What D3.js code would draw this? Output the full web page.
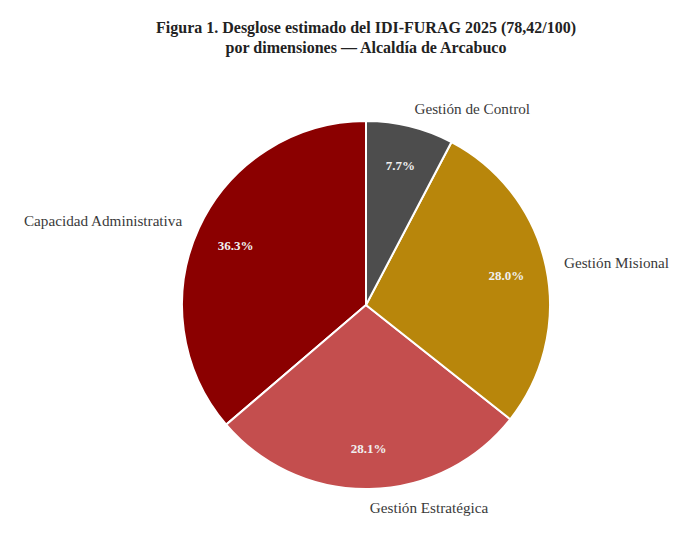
<!DOCTYPE html>
<html>
<head>
<meta charset="utf-8">
<script src="https://cdn.jsdelivr.net/npm/d3@7"></script>
<style>
  body { margin: 0; background: #fff; }
  text { font-family: "Liberation Serif", "DejaVu Serif", serif; }
</style>
</head>
<body>
<div id="chart"></div>
<script>
/* Figura 1 - desglose IDI-FURAG por dimensiones */

const categories = ["Capacidad Administrativa", "Gestión Estratégica", "Gestión Misional", "Gestión de Control"];
const values = [36.3, 28.1, 28.0, 7.7];
const colors = ["#8b0000", "#c44e4e", "#b8860b", "#4d4d4d"];
const titleLines = ["Figura 1. Desglose estimado del IDI-FURAG 2025 (78,42/100)",
                    "por dimensiones — Alcaldía de Arcabuco"];

const width = 690,
    height = 558,
    cx = 366, cy = 305,
    radius = 184;

const svg = d3.select("#chart")
    .append("svg")
    .attr("width", width)
    .attr("height", height);

svg.append("g")               // title
    .selectAll("text")
    .data(titleLines)
    .join("text")
    .attr("x", 366)
    .attr("y", (d, i) => 33 + i * 20)
    .attr("text-anchor", "middle")
    .attr("font-size", 16)
    .attr("font-weight", "bold")
    .attr("fill", "#222")
    .text(d => d);

const data = categories.map((c, i) => ({ name: c, value: values[i], color: colors[i] }));

// counter-clockwise from 12 o'clock, like matplotlib startangle=90
let pie = d3.pie()
    .sort(null)
    .value(d => d.value)
    .startAngle(0)
    .endAngle(-2 * Math.PI);

let arc = d3.arc().innerRadius(0).outerRadius(radius);

const slices = pie(data);

const g = svg.append("g")
    .attr("transform", `translate(${cx},${cy})`);

g.selectAll("path")
    .data(slices)
    .join("path")
    .attr("d", arc)
    .attr("fill", d => d.data.color)
    .attr("stroke", "#fff")
    .attr("stroke-width", 2);

let mid = d => (d.startAngle + d.endAngle) / 2;

g.selectAll(".pct")              // percentage labels inside
    .data(slices)
    .join("text")
    .attr("class", "pct")
    .attr("x", d => Math.sin(mid(d)) * radius * 0.78)
    .attr("y", d => -Math.cos(mid(d)) * radius * 0.78)
    .attr("dy", "0.35em")
    .attr("text-anchor", "middle")
    .attr("font-size", 13)
    .attr("font-weight", "bold")
    .attr("fill", "#f0f0f0")
    .text(d => d3.format(".1f")(d.data.value) + "%");

g.selectAll(".lbl")              // category labels outside
    .data(slices)
    .join("text")
    .attr("class", "lbl")
    .attr("x", d => Math.sin(mid(d)) * radius * 1.1)
    .attr("y", d => -Math.cos(mid(d)) * radius * 1.1)
    .attr("dy", "0.35em")
    .attr("text-anchor", d => Math.sin(mid(d)) >= 0 ? "start" : "end")
    .attr("font-size", 15.2)
    .attr("fill", "#3a3a3a")
    .text(d => d.data.name);
</script>
</body>
</html>
